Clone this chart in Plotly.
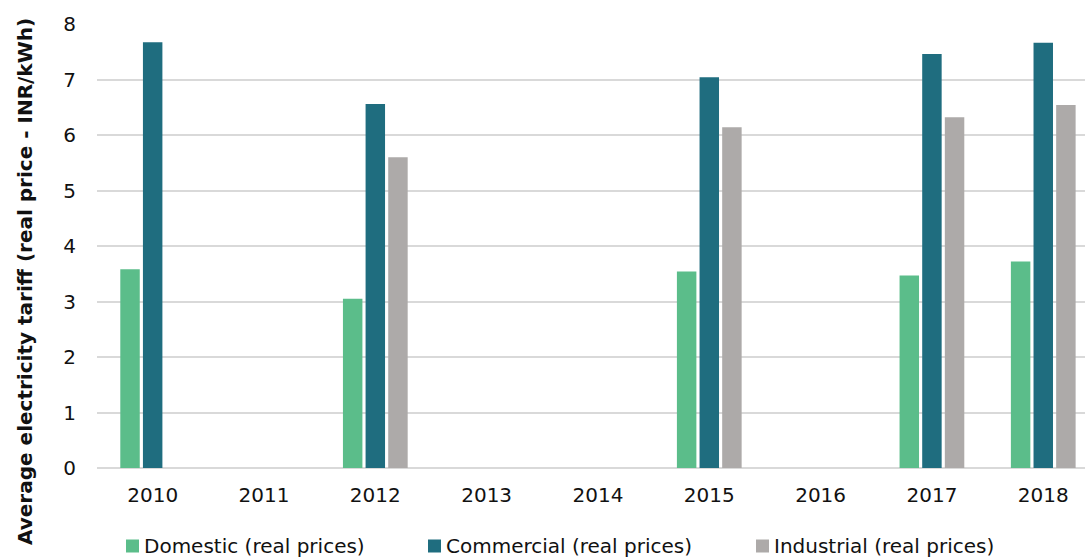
import plotly.graph_objects as go

years = ["2010", "2011", "2012", "2013", "2014", "2015", "2016", "2017", "2018"]
domestic = [3.58, None, 3.05, None, None, 3.54, None, 3.47, 3.72]
commercial = [7.67, None, 6.56, None, None, 7.04, None, 7.46, 7.66]
industrial = [None, None, 5.60, None, None, 6.14, None, 6.32, 6.54]
series_names = ["Domestic (real prices)", "Commercial (real prices)", "Industrial (real prices)"]
colors = ["#5BBD8A", "#1F6D7F", "#ADAAA9"]
y_title = "Average electricity tariff (real price - INR/kWh)"
y_ticks = [0, 1, 2, 3, 4, 5, 6, 7, 8]

FONT = "DejaVu Sans"
W, H = 1085, 560
ML, MR, MT, MB = 97, 0, 24, 92
PW, PH = W - ML - MR, H - MT - MB

fig = go.Figure()
for name, vals, col in zip(series_names, [domestic, commercial, industrial], colors):
    fig.add_trace(go.Bar(x=years, y=vals, name=name, marker=dict(color=col, line=dict(width=0)),
                         showlegend=False))

def px2x(px):
    return (px - ML) / PW

def py2y(py):
    return (MT + PH - py) / PH

# manual legend (squares + text)
legend_sq = [126, 428, 756]
sq_mid = 546
shapes = []
annotations = []
for name, col, sx in zip(series_names, colors, legend_sq):
    shapes.append(dict(type="rect", xref="paper", yref="paper",
                       x0=px2x(sx), x1=px2x(sx + 13), y0=py2y(sq_mid + 6.5), y1=py2y(sq_mid - 6.5),
                       fillcolor=col, line=dict(width=0)))
    annotations.append(dict(text=name, xref="paper", yref="paper", x=px2x(sx + 16), y=py2y(559.5),
                            xanchor="left", yanchor="bottom", showarrow=False,
                            font=dict(family=FONT, size=20, color="#111111")))

annotations.append(dict(text=y_title, xref="paper", yref="paper", x=px2x(25), y=py2y(282),
                        xanchor="center", yanchor="middle", textangle=-90, showarrow=False,
                        font=dict(family=FONT, size=20, color="#111111", weight="bold")))

fig.update_layout(
    width=W, height=H,
    margin=dict(l=ML, r=MR, t=MT, b=MB, pad=0),
    paper_bgcolor="white", plot_bgcolor="white",
    barmode="group", bargap=0.39, bargroupgap=0.14,
    font=dict(family=FONT, size=20, color="#111111"),
    shapes=shapes, annotations=annotations,
    showlegend=False,
)
fig.update_xaxes(type="category", categoryorder="array", categoryarray=years,
                 range=[-0.5, 8.375], showgrid=False, showline=False, ticks="",
                 ticklabelstandoff=13, tickfont=dict(family=FONT, size=20, color="#111111"))
fig.update_yaxes(range=[0, 8], tickvals=y_ticks, showgrid=True, gridcolor="#D9D9D9", gridwidth=2,
                 zeroline=True, zerolinecolor="#D9D9D9", zerolinewidth=2, showline=False, ticks="",
                 ticklabelstandoff=20, tickfont=dict(family=FONT, size=20, color="#111111"))

fig.write_html("out.html")
